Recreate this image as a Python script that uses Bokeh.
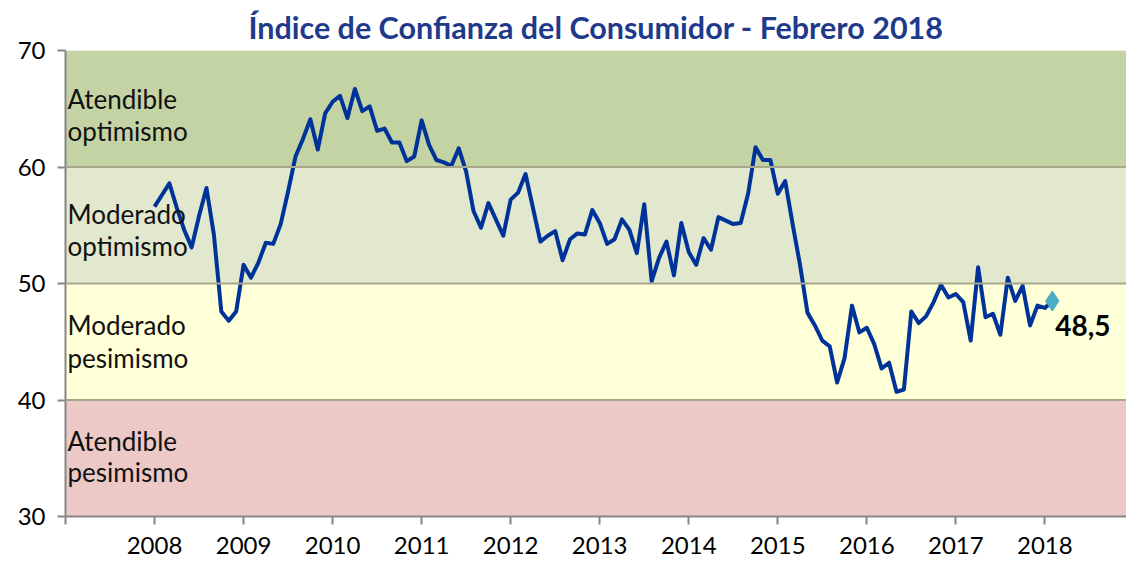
from bokeh.plotting import figure
from bokeh.models import Range1d, FixedTicker, Label, Span
from bokeh.embed import file_html
from bokeh.resources import INLINE

title_text = "Índice de Confianza del Consumidor - Febrero 2018"
years = ["2008", "2009", "2010", "2011", "2012", "2013", "2014", "2015", "2016", "2017", "2018"]

# Monthly index values, Jan 2008 .. Feb 2018
icc = [
    56.6, 57.6, 58.6, 56.5, 54.6, 53.1, 55.8, 58.2, 54.2, 47.6, 46.8, 47.6,
    51.6, 50.5, 51.8, 53.5, 53.4, 55.1, 57.9, 60.9, 62.4, 64.1, 61.5, 64.6,
    65.6, 66.1, 64.2, 66.7, 64.8, 65.2, 63.1, 63.3, 62.1, 62.1, 60.5, 60.9,
    64.0, 61.9, 60.6, 60.4, 60.1, 61.6, 59.6, 56.2, 54.8, 56.9, 55.5, 54.1,
    57.2, 57.8, 59.4, 56.5, 53.6, 54.1, 54.5, 52.0, 53.8, 54.3, 54.2, 56.3,
    55.2, 53.4, 53.8, 55.5, 54.6, 52.6, 56.8, 50.2, 52.2, 53.6, 50.7, 55.2,
    52.7, 51.6, 53.9, 52.9, 55.7, 55.4, 55.1, 55.2, 57.7, 61.7, 60.6, 60.6,
    57.7, 58.8, 55.1, 51.6, 47.5, 46.4, 45.1, 44.6, 41.5, 43.6, 48.1, 45.8,
    46.2, 44.8, 42.7, 43.2, 40.7, 40.9, 47.6, 46.6, 47.2, 48.4, 49.9, 48.8,
    49.1, 48.4, 45.1, 51.4, 47.1, 47.4, 45.6, 50.5, 48.5, 49.8, 46.4, 48.1,
    47.9, 48.5,
]
months = list(range(len(icc)))

band_bottom = [60, 50, 40, 30]
band_top = [70, 60, 50, 40]
band_color = ["#C3D3A4", "#E1E8CD", "#FFFFD8", "#ECC9C7"]
band_line1 = ["Atendible", "Moderado", "Moderado", "Atendible"]
band_line2 = ["optimismo", "optimismo", "pesimismo", "pesimismo"]
# label placement (layout only)
line1_y = [65.8, 55.95, 46.4, 36.5]
line2_y = [63.1, 53.2, 43.6, 33.8]

X0, X1 = -12, 131
FONT = "Lato"

p = figure(width=1126, height=562, output_backend="svg", toolbar_location=None,
           x_range=Range1d(X0, X1), y_range=Range1d(30, 70),
           min_border_left=65, min_border_right=0, min_border_top=49, min_border_bottom=46)
p.outline_line_color = None
p.xgrid.visible = False
p.ygrid.visible = False
p.background_fill_color = "white"

p.title.text = title_text
p.title.align = "center"
p.title.offset = 11
p.title.text_font = FONT
p.title.text_font_style = "bold"
p.title.text_font_size = "30.5px"
p.title.text_color = "#1F3A8A"
p.title.standoff = 12

p.quad(left=[X0] * 4, right=[X1] * 4, bottom=band_bottom, top=band_top,
       fill_color=band_color, line_color=None)
for b in band_bottom[:3]:
    p.add_layout(Span(location=b, dimension="width", line_color="#A7A78C", line_width=2))

for l1, l2, y1, y2 in zip(band_line1, band_line2, line1_y, line2_y):
    p.add_layout(Label(x=X0, y=y1, x_offset=2, text=l1, text_font=FONT,
                       text_font_size="26px", text_color="#111111", text_baseline="middle"))
    p.add_layout(Label(x=X0, y=y2, x_offset=2, text=l2, text_font=FONT,
                       text_font_size="26px", text_color="#111111", text_baseline="middle"))

p.line(months, icc, line_color="#003399", line_width=4, line_join="round")
p.scatter([months[-1]], [icc[-1]], marker="diamond", size=20, fill_color="#4BACC6", line_color="#4BACC6")
p.add_layout(Label(x=months[-1], y=icc[-1], x_offset=3, y_offset=-25,
                   text=f"{icc[-1]:.1f}".replace(".", ","), text_font=FONT, text_font_style="bold",
                   text_font_size="28px", text_color="#000000", text_baseline="middle"))

ticks = [X0] + [12 * k for k in range(len(years))]
p.xaxis.ticker = FixedTicker(ticks=ticks)
p.xaxis.major_label_overrides = {X0: ""} | {12 * k: y for k, y in enumerate(years)}
p.yaxis.ticker = FixedTicker(ticks=[30, 40, 50, 60, 70])
for ax in (p.xaxis[0], p.yaxis[0]):
    ax.axis_line_color = "#868686"
    ax.axis_line_width = 2
    ax.major_tick_line_color = "#868686"
    ax.major_tick_line_width = 2
    ax.major_tick_in = 0
    ax.major_tick_out = 8
    ax.minor_tick_line_color = None
    ax.major_label_text_font = FONT
    ax.major_label_text_font_size = "24px"
    ax.major_label_text_color = "#000000"
p.xaxis.major_label_standoff = 12
p.yaxis.major_label_standoff = 12

open("out.html", "w").write(file_html(p, INLINE))
